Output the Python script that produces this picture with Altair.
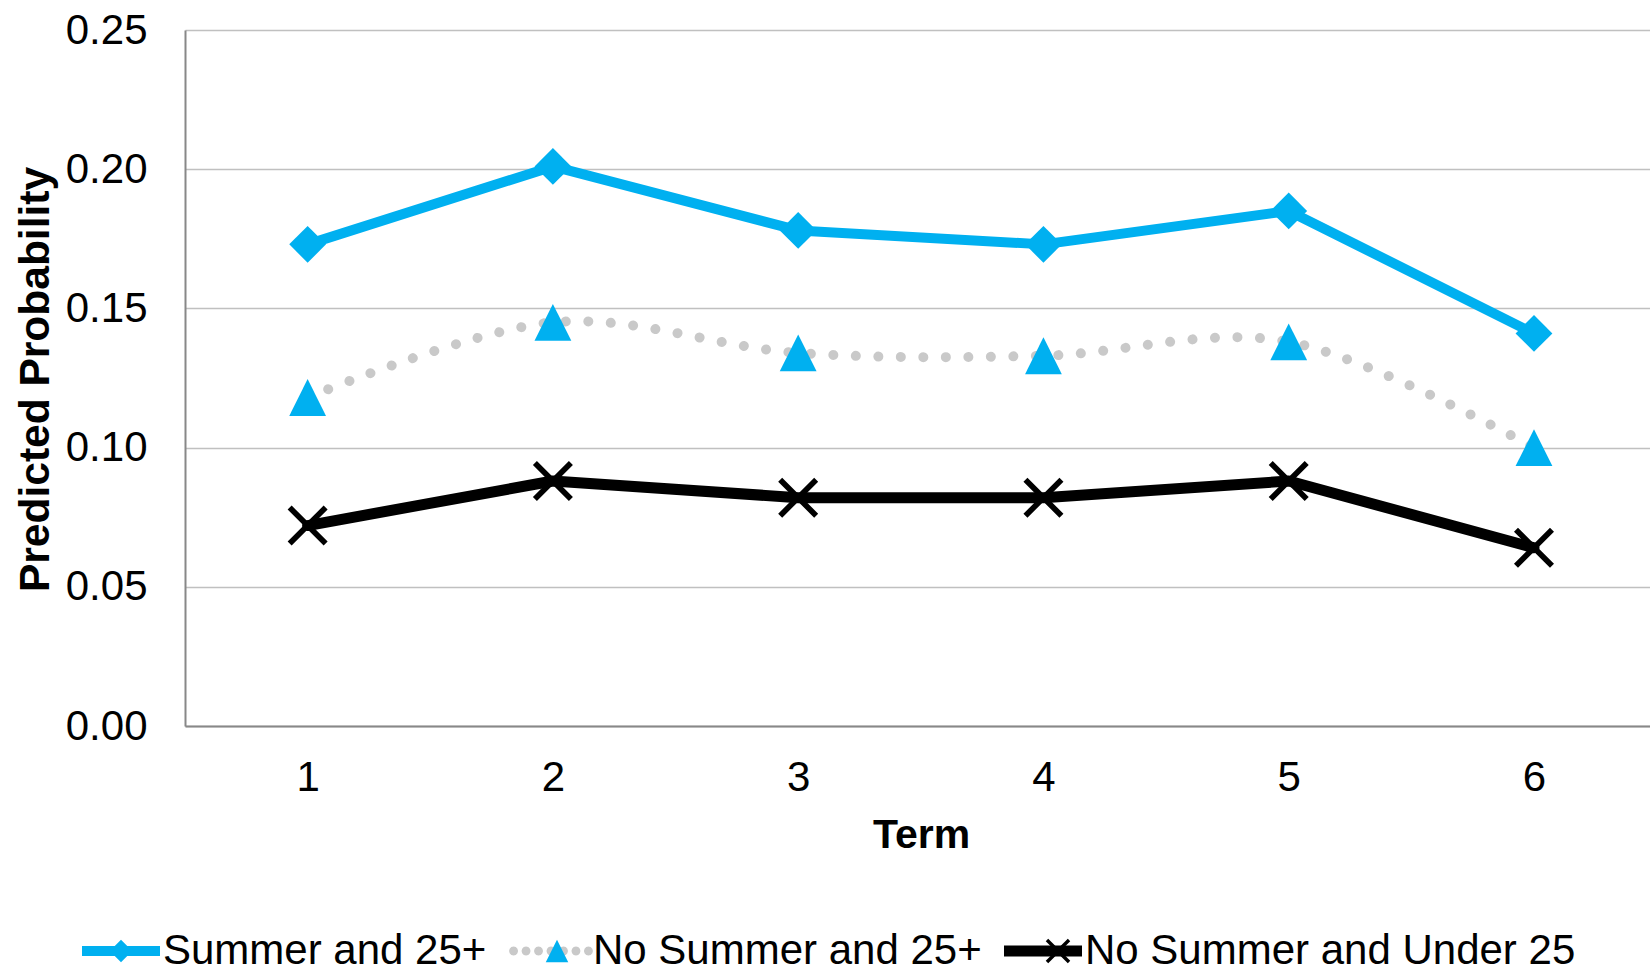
import math
import altair as alt
import pandas as pd

# Predicted probability by term for three student groups
terms = [1, 2, 3, 4, 5, 6]
series_names = ["Summer and 25+", "No Summer and 25+", "No Summer and Under 25"]
summer_25_plus = [0.173, 0.201, 0.178, 0.173, 0.185, 0.141]
no_summer_25_plus = [0.118, 0.145, 0.134, 0.133, 0.138, 0.100]
no_summer_under_25 = [0.072, 0.088, 0.082, 0.082, 0.088, 0.064]
y_ticks = [0.0, 0.05, 0.10, 0.15, 0.20, 0.25]

rows = []
for name, vals in zip(series_names, [summer_25_plus, no_summer_25_plus, no_summer_under_25]):
    for t, v in zip(terms, vals):
        rows.append({"Term": t, "Series": name, "Probability": v})
df = pd.DataFrame(rows)

BLUE = "#00B0F0"
DOT_GREY = "#c9c9c9"
AXIS_GREY = "#888888"
GRID_GREY = "#c0c0c0"
FONT = "Liberation Sans"

# Marker outlines on a -1..1 square
DIAMOND = "M0,-0.92L0.92,0L0,0.92L-0.92,0Z"
TRIANGLE = "M0,-0.92L0.92,0.92L-0.92,0.92Z"
CROSS = ("M-1,-0.8L-0.8,-1L0,-0.2L0.8,-1L1,-0.8L0.2,0L1,0.8L0.8,1"
         "L0,0.2L-0.8,1L-1,0.8L-0.2,0Z")


def bar_path(half):
    return f"M-1,{-half}L1,{-half}L1,{half}L-1,{half}Z"


def dots_path(r, step):
    parts = []
    cx = -0.96
    while cx <= 0.97:
        pts = [(cx + r * math.cos(2 * math.pi * k / 12), r * math.sin(2 * math.pi * k / 12)) for k in range(12)]
        parts.append("M" + "L".join(f"{px:.4f},{py:.4f}" for px, py in pts) + "Z")
        cx += step
    return "".join(parts)


# Legend swatches for the line styles (drawn 78 px wide)
SOLID_BLUE_SWATCH = bar_path(0.128)
DOTTED_SWATCH = dots_path(0.115, 0.32)
SOLID_BLACK_SWATCH = bar_path(0.141)

x_enc = alt.X(
    "Term:Q",
    scale=alt.Scale(domain=[0.5, 6.473], nice=False, zero=False),
    axis=alt.Axis(
        values=terms, format="d", title="Term",
        titleFont=FONT, titleFontSize=41, titleFontWeight="bold", titleColor="black",
        titleX=736, titleY=121, titleAlign="center", titleBaseline="alphabetic",
        labelFont=FONT, labelFontSize=42, labelColor="black",
        labelBaseline="alphabetic", labelPadding=64, labelFlush=False,
        ticks=False, tickSize=0, grid=False,
        domainColor=AXIS_GREY, domainWidth=2,
    ),
)
y_enc = alt.Y(
    "Probability:Q",
    scale=alt.Scale(domain=[0, 0.25], nice=False),
    axis=alt.Axis(
        values=y_ticks, format=".2f", title="Predicted Probability",
        titleFont=FONT, titleFontSize=42.5, titleFontWeight="bold", titleColor="black",
        titleAngle=270, titleX=-137, titleY=349, titleAlign="center",
        titleBaseline="alphabetic",
        labelFont=FONT, labelFontSize=42, labelColor="black", labelPadding=38,
        labelFlush=False,
        ticks=False, tickSize=0, grid=True, gridColor=GRID_GREY, gridWidth=1.5,
        domainColor=AXIS_GREY, domainWidth=2,
    ),
)

line_legend = alt.Legend(
    orient="none", legendX=-103, legendY=882, direction="horizontal", title=None,
    symbolSize=6084, symbolStrokeWidth=0,
    labelFont=FONT, labelFontSize=42, labelColor="black", labelOffset=3,
    labelLimit=2000, columnPadding=22, padding=0, zindex=1,
)
marker_legend = alt.Legend(
    orient="none", legendX=-85, legendY=900, direction="horizontal", title=None,
    symbolSize=600, symbolStrokeWidth=0,
    labelFont=FONT, labelFontSize=42, labelColor="rgba(0,0,0,0)", labelOffset=48,
    labelLimit=2000, columnPadding=22, padding=0, zindex=2,
)

base = alt.Chart(df)

solid_lines = base.transform_filter(
    alt.FieldOneOfPredicate(field="Series", oneOf=[series_names[0], series_names[2]])
).mark_line(strokeJoin="round", strokeCap="round").encode(
    x=x_enc, y=y_enc,
    stroke=alt.Stroke("Series:N", scale=alt.Scale(domain=[series_names[0], series_names[2]], range=[BLUE, "black"]), legend=None),
    strokeWidth=alt.StrokeWidth("Series:N", scale=alt.Scale(domain=[series_names[0], series_names[2]], range=[10, 11]), legend=None),
)

dotted_line = base.transform_filter(
    alt.FieldEqualPredicate(field="Series", equal=series_names[1])
).mark_line(
    interpolate="cardinal", tension=0, strokeCap="round",
    stroke=DOT_GREY, strokeWidth=10, strokeDash=[0.01, 22.5],
).encode(x=x_enc, y=y_enc)

markers = base.mark_point(filled=True, size=1600, opacity=1).encode(
    x=x_enc, y=y_enc,
    fill=alt.Fill("Series:N", scale=alt.Scale(domain=series_names, range=[BLUE, BLUE, "black"]), legend=marker_legend),
    shape=alt.Shape("Series:N", scale=alt.Scale(domain=series_names, range=[DIAMOND, TRIANGLE, CROSS]), legend=marker_legend),
)

# Legend-only layer: carries the line-style swatches and the visible labels
line_key = base.transform_filter("false").mark_point(filled=True, opacity=1).encode(
    x=x_enc, y=y_enc,
    fill=alt.Fill("Series:N", scale=alt.Scale(domain=series_names, range=[BLUE, DOT_GREY, "black"]), legend=line_legend),
    shape=alt.Shape("Series:N", scale=alt.Scale(domain=series_names, range=[SOLID_BLUE_SWATCH, DOTTED_SWATCH, SOLID_BLACK_SWATCH]), legend=line_legend),
)

chart = alt.layer(solid_lines, dotted_line, line_key, markers).resolve_scale(
    fill="independent", shape="independent"
).properties(
    width=1465, height=696,
    autosize=alt.AutoSizeParams(type="none"),
    padding={"left": 185, "top": 30, "right": 0, "bottom": 244},
).configure(font=FONT).configure_view(stroke=None)

chart.save("out.html", embed_options={"renderer": "svg", "actions": False})
